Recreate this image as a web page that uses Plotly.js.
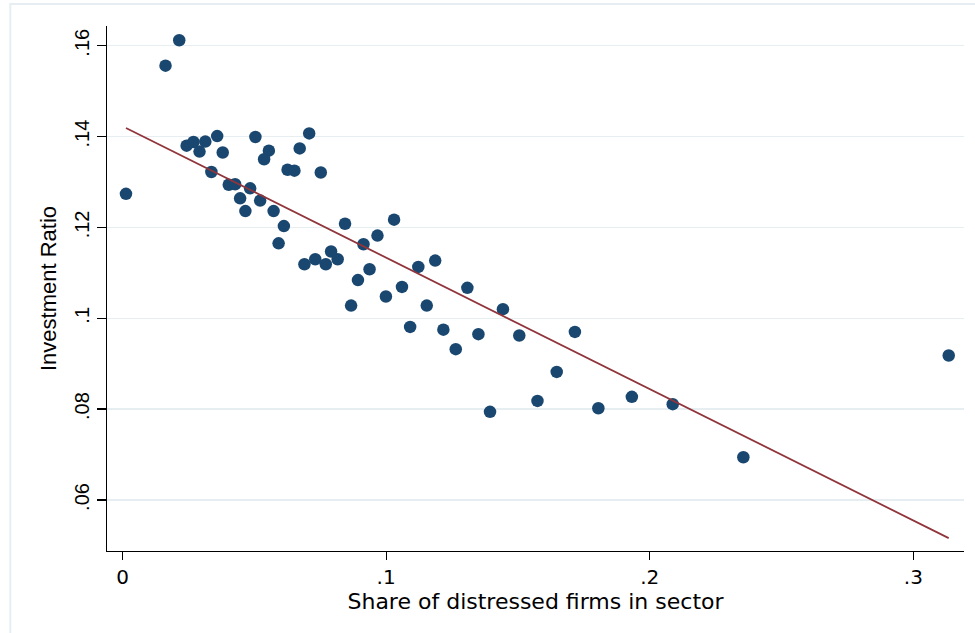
<!DOCTYPE html>
<html>
<head>
<meta charset="utf-8">
<script src="https://cdn.plot.ly/plotly-3.0.1.min.js"></script>
<style>
  html, body { margin: 0; padding: 0; background: #ffffff; }
  #chart { width: 975px; height: 633px; }
</style>
</head>
<body>
<div id="chart"></div>
<script>
// Share of distressed firms in sector (x) and investment ratio (y)
const shareDistressed = [
  0.0013, 0.0163, 0.0215, 0.0243, 0.0269, 0.0292, 0.0314, 0.0359, 0.0380, 0.0337,
  0.0403, 0.0427, 0.0484, 0.0446, 0.0522, 0.0466, 0.0573, 0.0504, 0.0555, 0.0537,
  0.0626, 0.0652, 0.0672, 0.0708, 0.0752, 0.0612, 0.0592, 0.0690, 0.0731, 0.0771,
  0.0791, 0.0816, 0.0844, 0.0914, 0.0967, 0.1030, 0.0937, 0.0893, 0.0999, 0.0867,
  0.1060, 0.1122, 0.1186, 0.1154, 0.1091, 0.1217, 0.1264, 0.1308, 0.1350, 0.1443,
  0.1505, 0.1716, 0.1647, 0.1394, 0.1574, 0.1805, 0.1932, 0.2087, 0.2355, 0.3134
];
const investmentRatio = [
  0.1274, 0.1556, 0.1612, 0.1380, 0.1388, 0.1367, 0.1389, 0.1401, 0.1365, 0.1322,
  0.1294, 0.1295, 0.1286, 0.1264, 0.1259, 0.1236, 0.1236, 0.1399, 0.1369, 0.1350,
  0.1327, 0.1325, 0.1374, 0.1407, 0.1321, 0.1203, 0.1165, 0.1119, 0.1130, 0.1119,
  0.1147, 0.1130, 0.1208, 0.1163, 0.1182, 0.1217, 0.1108, 0.1084, 0.1048, 0.1028,
  0.1069, 0.1113, 0.1127, 0.1028, 0.0981, 0.0975, 0.0932, 0.1067, 0.0965, 0.1020,
  0.0962, 0.0970, 0.0882, 0.0794, 0.0818, 0.0802, 0.0827, 0.0811, 0.0694, 0.0918
];
// Linear fit line endpoints
const fitX = [0.0013, 0.3134];
const fitY = [0.1419, 0.0516];

const xTickVals = [0, 0.1, 0.2, 0.3];
const xTickText = ['0', '.1', '.2', '.3'];
const yTickVals = [0.06, 0.08, 0.10, 0.12, 0.14, 0.16];
const yTickText = ['.06', '.08', '.1', '.12', '.14', '.16'];

const traces = [
  {
    x: shareDistressed, y: investmentRatio,
    type: 'scatter', mode: 'markers',
    marker: { color: '#1a476f', size: 12.5, line: { width: 0 } },
    hoverinfo: 'x+y', showlegend: false
  },
  {
    x: fitX, y: fitY,
    type: 'scatter', mode: 'lines',
    line: { color: '#90353b', width: 1.8 },
    showlegend: false
  }
];

const layout = {
  width: 975, height: 633,
  paper_bgcolor: '#ffffff', plot_bgcolor: '#ffffff',
  margin: { l: 107, r: 11, t: 26, b: 82 },
  showlegend: false,
  xaxis: {
    range: [-0.0059, 0.3192],
    tickvals: xTickVals, ticktext: xTickText,
    ticks: 'outside', ticklen: 8, tickwidth: 1.3, tickcolor: '#000000',
    showline: true, linecolor: '#000000', linewidth: 1.3,
    showgrid: false, zeroline: false,
    tickfont: { family: 'DejaVu Sans', size: 20, color: '#000000' },
    title: { text: 'Share of distressed firms in sector', font: { family: 'DejaVu Sans', size: 22, color: '#000000' }, standoff: 2 },
    automargin: false
  },
  yaxis: {
    range: [0.04877, 0.16434],
    tickvals: yTickVals, ticktext: yTickText,
    tickangle: -90,
    ticks: 'outside', ticklen: 9, tickwidth: 1.3, tickcolor: '#000000',
    showline: true, linecolor: '#000000', linewidth: 1.3,
    showgrid: true, gridcolor: '#e6eef2', gridwidth: 1.5,
    zeroline: false,
    tickfont: { family: 'Liberation Sans', size: 20, color: '#000000' },
    title: { text: 'Investment Ratio', font: { family: 'Liberation Sans', size: 22, color: '#000000' }, standoff: 8 },
    automargin: false
  },
  shapes: [
    {
      type: 'rect', xref: 'paper', yref: 'paper',
      x0: -0.1128, x1: 1.03, y0: -0.18, y1: 1.0419,
      line: { color: '#e6eef2', width: 2 }, fillcolor: 'rgba(0,0,0,0)', layer: 'below'
    }
  ]
};

Plotly.newPlot('chart', traces, layout, { displayModeBar: false, staticPlot: true });
</script>
</body>
</html>
